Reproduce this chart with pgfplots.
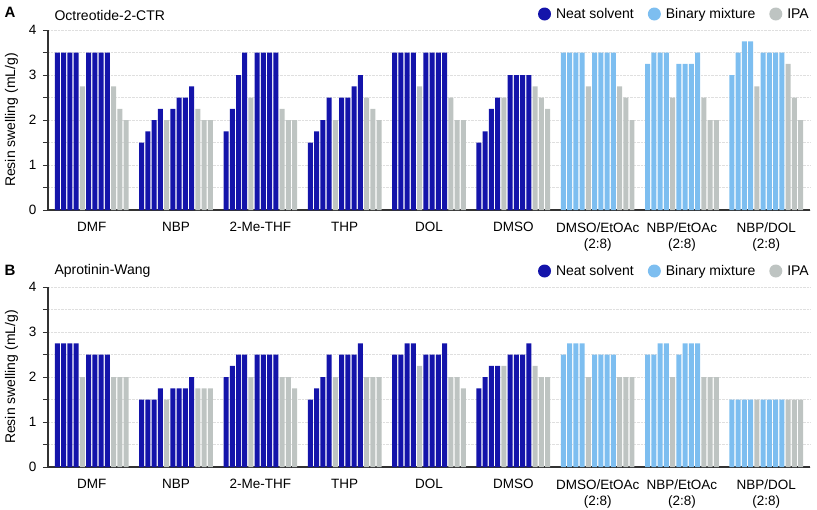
\documentclass[border=0pt]{standalone}
\usepackage{fontspec}
\setmainfont{Liberation Sans}
\usepackage{pgfplots}
\pgfplotsset{compat=1.18}
\definecolor{neat}{RGB}{20,20,170}
\definecolor{binary}{RGB}{125,190,240}
\definecolor{ipa}{RGB}{190,196,194}
\definecolor{axgray}{RGB}{50,50,50}
\newcommand{\lbl}{\fontsize{13.5bp}{16bp}\selectfont}
\newcommand{\lblbig}{\fontsize{14bp}{16bp}\selectfont}
\pgfplotsset{panel/.style={
  scale only axis, width=762bp, height=180bp,
  xmin=-1.5, xmax=120.5, ymin=0, ymax=4,
  axis lines*=left,
  axis line style={axgray, line width=1.2bp},
  ybar, bar width=0.8, bar shift=0pt,
  ytick={0,1,2,3,4}, minor ytick={0.5,1.5,2.5,3.5},
  tick align=outside,
  xtick={5.5,19,32.5,46,59.5,73,86.5,100,113.5},
  xticklabels={DMF,NBP,2-Me-THF,THP,DOL,DMSO,{DMSO/EtOAc\\(2:8)},{NBP/EtOAc\\(2:8)},{NBP/DOL\\(2:8)}},
  xtick style={draw=none},
  ytick style={axgray, line width=1bp},
  major tick length=5bp, minor tick length=5bp,
  ymajorgrids, yminorgrids,
  major grid style={densely dotted, gray!25},
  minor grid style={densely dotted, gray!25},
  tick label style={font=\lbl},
  /pgf/number format/assume math mode=true,
  xticklabel style={align=center, yshift=-4bp},
  yticklabel style={xshift=-3bp},
  ylabel={Resin swelling (mL/g)},
  ylabel shift=4bp,
  label style={font=\lblbig},
  legend style={draw=none, fill=none, font=\lblbig, legend columns=3,
    at={(1,1)}, anchor=east, yshift=16bp, xshift=4bp,
    /tikz/every odd column/.append style={column sep=3bp},
    /tikz/every even column/.append style={column sep=12bp}},
  legend image code/.code={\fill[##1] (0bp,0bp) circle (6.5bp);},
}}
\begin{document}
\begin{tikzpicture}
\useasboundingbox (0,0) rectangle (817bp,-510bp);
% Panel A
\begin{axis}[panel, at={(48bp,-210bp)}, anchor=south west]
\addplot[fill=neat, draw=none] coordinates {
(0,3.5)(1,3.5)(2,3.5)(3,3.5)(5,3.5)(6,3.5)(7,3.5)(8,3.5)
(13.5,1.5)(14.5,1.75)(15.5,2)(16.5,2.25)(18.5,2.25)(19.5,2.5)(20.5,2.5)(21.5,2.75)
(27,1.75)(28,2.25)(29,3)(30,3.5)(32,3.5)(33,3.5)(34,3.5)(35,3.5)
(40.5,1.5)(41.5,1.75)(42.5,2)(43.5,2.5)(45.5,2.5)(46.5,2.5)(47.5,2.75)(48.5,3)
(54,3.5)(55,3.5)(56,3.5)(57,3.5)(59,3.5)(60,3.5)(61,3.5)(62,3.5)
(67.5,1.5)(68.5,1.75)(69.5,2.25)(70.5,2.5)(72.5,3)(73.5,3)(74.5,3)(75.5,3)
};
\addplot[fill=binary, draw=none] coordinates {
(81,3.5)(82,3.5)(83,3.5)(84,3.5)(86,3.5)(87,3.5)(88,3.5)(89,3.5)
(94.5,3.25)(95.5,3.5)(96.5,3.5)(97.5,3.5)(99.5,3.25)(100.5,3.25)(101.5,3.25)(102.5,3.5)
(108,3)(109,3.5)(110,3.75)(111,3.75)(113,3.5)(114,3.5)(115,3.5)(116,3.5)
};
\addplot[fill=ipa, draw=none] coordinates {
(4,2.75)(9,2.75)(10,2.25)(11,2)
(17.5,2)(22.5,2.25)(23.5,2)(24.5,2)
(31,2.5)(36,2.25)(37,2)(38,2)
(44.5,2)(49.5,2.5)(50.5,2.25)(51.5,2)
(58,2.75)(63,2.5)(64,2)(65,2)
(71.5,2.5)(76.5,2.75)(77.5,2.5)(78.5,2.25)
(85,2.75)(90,2.75)(91,2.5)(92,2)
(98.5,2.5)(103.5,2.5)(104.5,2)(105.5,2)
(112,2.75)(117,3.25)(118,2.5)(119,2)
};
\legend{Neat solvent, Binary mixture, IPA}
\end{axis}
% Panel B
\begin{axis}[panel, at={(48bp,-467bp)}, anchor=south west]
\addplot[fill=neat, draw=none] coordinates {
(0,2.75)(1,2.75)(2,2.75)(3,2.75)(5,2.5)(6,2.5)(7,2.5)(8,2.5)
(13.5,1.5)(14.5,1.5)(15.5,1.5)(16.5,1.75)(18.5,1.75)(19.5,1.75)(20.5,1.75)(21.5,2)
(27,2)(28,2.25)(29,2.5)(30,2.5)(32,2.5)(33,2.5)(34,2.5)(35,2.5)
(40.5,1.5)(41.5,1.75)(42.5,2)(43.5,2.5)(45.5,2.5)(46.5,2.5)(47.5,2.5)(48.5,2.75)
(54,2.5)(55,2.5)(56,2.75)(57,2.75)(59,2.5)(60,2.5)(61,2.5)(62,2.75)
(67.5,1.75)(68.5,2)(69.5,2.25)(70.5,2.25)(72.5,2.5)(73.5,2.5)(74.5,2.5)(75.5,2.75)
};
\addplot[fill=binary, draw=none] coordinates {
(81,2.5)(82,2.75)(83,2.75)(84,2.75)(86,2.5)(87,2.5)(88,2.5)(89,2.5)
(94.5,2.5)(95.5,2.5)(96.5,2.75)(97.5,2.75)(99.5,2.5)(100.5,2.75)(101.5,2.75)(102.5,2.75)
(108,1.5)(109,1.5)(110,1.5)(111,1.5)(113,1.5)(114,1.5)(115,1.5)(116,1.5)
};
\addplot[fill=ipa, draw=none] coordinates {
(4,2)(9,2)(10,2)(11,2)
(17.5,1.5)(22.5,1.75)(23.5,1.75)(24.5,1.75)
(31,2)(36,2)(37,2)(38,1.75)
(44.5,2)(49.5,2)(50.5,2)(51.5,2)
(58,2.25)(63,2)(64,2)(65,1.75)
(71.5,2.25)(76.5,2.25)(77.5,2)(78.5,2)
(85,2)(90,2)(91,2)(92,2)
(98.5,2)(103.5,2)(104.5,2)(105.5,2)
(112,1.5)(117,1.5)(118,1.5)(119,1.5)
};
\legend{Neat solvent, Binary mixture, IPA}
\end{axis}
\node[anchor=west, font=\bfseries\fontsize{15bp}{17bp}\selectfont] at (1bp,-12bp) {A};
\node[anchor=west, font=\lblbig] at (51bp,-15bp) {Octreotide-2-CTR};
\node[anchor=west, font=\bfseries\fontsize{15bp}{17bp}\selectfont] at (1bp,-270bp) {B};
\node[anchor=west, font=\lblbig] at (51bp,-271bp) {Aprotinin-Wang};
\end{tikzpicture}
\end{document}
